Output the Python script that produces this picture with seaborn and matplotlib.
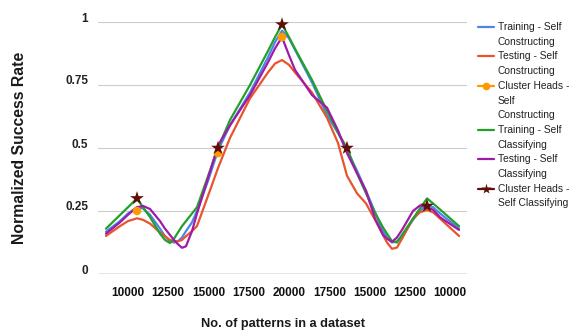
import matplotlib
matplotlib.use("Agg")
import matplotlib.pyplot as plt
import pandas as pd
import seaborn as sns
from matplotlib.lines import Line2D
from matplotlib.transforms import ScaledTranslation

sns.set_theme(style="white")
plt.rcParams['font.family'] = ['Liberation Sans', 'DejaVu Sans']

# ---- data ----
tick_labels = ["10000", "12500", "15000", "17500", "20000", "17500", "15000", "12500", "10000"]
y_ticks = [0, 0.25, 0.5, 0.75, 1]
y_tick_labels = ["0", "0.25", "0.5", "0.75", "1"]

# sample positions along the x axis (in tick units: 0 = first "10000" tick)
x_pos = [-0.547, -0.199, 0.0, 0.224, 0.373, 0.547, 0.795, 0.919, 1.043, 1.143,
         1.242, 1.342, 1.441, 1.590, 1.714, 1.988, 2.236, 2.534, 3.031, 3.478,
         3.652, 3.826, 4.0, 4.149, 4.571, 4.944, 5.217, 5.441, 5.689, 5.913,
         6.137, 6.335, 6.435, 6.559, 6.683, 6.807, 7.081, 7.255, 7.429, 7.578,
         7.752, 8.224]

training_self_constructing = [0.168, 0.21, 0.24, 0.265, 0.26, 0.235, 0.18, 0.15, 0.13, 0.125,
                              0.13, 0.145, 0.17, 0.205, 0.25, 0.37, 0.49, 0.59, 0.72, 0.86,
                              0.92, 0.965, 0.935, 0.89, 0.76, 0.63, 0.56, 0.49, 0.41, 0.33,
                              0.245, 0.17, 0.145, 0.125, 0.13, 0.15, 0.215, 0.25, 0.274, 0.265,
                              0.24, 0.181]
testing_self_constructing = [0.151, 0.19, 0.21, 0.221, 0.215, 0.20, 0.165, 0.15, 0.135, 0.13,
                             0.13, 0.135, 0.15, 0.17, 0.19, 0.31, 0.42, 0.54, 0.697, 0.80,
                             0.835, 0.849, 0.83, 0.80, 0.72, 0.62, 0.52, 0.39, 0.32, 0.28,
                             0.215, 0.155, 0.125, 0.10, 0.105, 0.14, 0.22, 0.245, 0.254, 0.245,
                             0.22, 0.151]
training_self_classifying = [0.18, 0.234, 0.265, 0.30, 0.265, 0.226, 0.16, 0.135, 0.123, 0.14,
                             0.165, 0.19, 0.21, 0.24, 0.265, 0.388, 0.50, 0.611, 0.75, 0.885,
                             0.94, 0.99, 0.94, 0.894, 0.77, 0.648, 0.561, 0.50, 0.40, 0.32,
                             0.243, 0.185, 0.16, 0.13, 0.125, 0.155, 0.22, 0.26, 0.30, 0.28,
                             0.256, 0.19]
testing_self_classifying = [0.16, 0.205, 0.235, 0.265, 0.27, 0.258, 0.21, 0.18, 0.155, 0.135,
                            0.118, 0.104, 0.11, 0.17, 0.24, 0.38, 0.51, 0.59, 0.71, 0.84,
                            0.895, 0.94, 0.868, 0.81, 0.71, 0.66, 0.57, 0.48, 0.40, 0.33,
                            0.22, 0.155, 0.14, 0.128, 0.145, 0.175, 0.25, 0.272, 0.265, 0.255,
                            0.225, 0.175]

ch_sc_x = [0.224, 2.236, 3.826]
ch_sc_y = [0.25, 0.48, 0.94]
ch_cl_x = [0.224, 2.236, 3.826, 5.441, 7.429]
ch_cl_y = [0.30, 0.50, 0.99, 0.50, 0.27]

series_names = ["Training - Self Constructing", "Testing - Self Constructing",
                "Cluster Heads - Self Constructing", "Training - Self Classifying",
                "Testing - Self Classifying", "Cluster Heads - Self Classifying"]
legend_lines = [["Training - Self", "Constructing"],
                ["Testing - Self", "Constructing"],
                ["Cluster Heads -", "Self", "Constructing"],
                ["Training - Self", "Classifying"],
                ["Testing - Self", "Classifying"],
                ["Cluster Heads -", "Self Classifying"]]
colors = ["#4A86E8", "#E8542C", "#FF9900", "#22A02A", "#A01AA8", "#5E0F0A"]

# ---- build frames ----
line_series = [(series_names[0], training_self_constructing),
               (series_names[1], testing_self_constructing),
               (series_names[3], training_self_classifying),
               (series_names[4], testing_self_classifying)]
line_df = pd.concat([pd.DataFrame({"x": x_pos, "y": vals, "series": name})
                     for name, vals in line_series], ignore_index=True)

W, H = 579, 334
fig = plt.figure(figsize=(W / 100, H / 100), dpi=100)
ax = fig.add_axes([98 / W, 1 - 274 / H, (467 - 98) / W, (274 - 22) / H])

# grid
for yv in y_ticks[1:]:
    ax.axhline(yv, color="#cccccc", lw=0.8, zorder=0)
ax.axhline(0, color="#333333", lw=0.9, zorder=1)

palette = {series_names[i]: colors[i] for i in range(6)}
order = [series_names[0], series_names[1], series_names[3], series_names[4]]
for name in order:
    sub = line_df[line_df.series == name]
    sns.lineplot(data=sub, x="x", y="y", color=palette[name], lw=1.6, sort=False,
                 ax=ax, legend=False, clip_on=False, zorder=3,
                 solid_joinstyle="round", solid_capstyle="round")

sns.scatterplot(x=ch_sc_x, y=ch_sc_y, color=colors[2], s=38, marker="o",
                edgecolor="none", ax=ax, legend=False, zorder=4, clip_on=False)
sns.scatterplot(x=ch_cl_x, y=ch_cl_y, color=colors[5], s=110, marker="*",
                edgecolor="none", ax=ax, legend=False, zorder=5, clip_on=False)

ax.set_xlim(-0.745, 8.422)
ax.set_ylim(0, 1)
for s in ax.spines.values():
    s.set_visible(False)
ax.set_xticks(range(len(tick_labels)))
ax.set_xticklabels(tick_labels, fontsize=8.5, fontweight="bold", color="#111111")
ax.set_yticks(y_ticks)
ax.set_yticklabels(y_tick_labels, fontsize=8.5, fontweight="bold", color="#222222")
ax.tick_params(axis="x", length=0, pad=9)
ax.tick_params(axis="y", length=0, pad=7)
off = ScaledTranslation(0, 5 / 100, fig.dpi_scale_trans)
for lab in ax.get_yticklabels():
    lab.set_transform(lab.get_transform() + off)
ax.set_xlabel("")
ax.set_ylabel("")
ax.set_facecolor("white")

fig.text(20 / W, 1 - 148 / H, "Normalized Success Rate", rotation=90, ha="center",
         va="center", fontsize=11.3, fontweight="bold", color="#1a1a1a")
fig.text(283 / W, 1 - 324 / H, "No. of patterns in a dataset", ha="center",
         va="center", fontsize=9.2, fontweight="bold", color="#1a1a1a")

# legend (manual, Google-chart style)
line_h = 14.7
y0 = 27
k = 0
for i, lines in enumerate(legend_lines):
    yy = y0 + k * line_h
    fy = 1 - yy / H
    fig.add_artist(Line2D([478 / W, 494 / W], [fy, fy], color=colors[i], lw=1.6,
                          transform=fig.transFigure))
    if i == 2:
        fig.add_artist(Line2D([486 / W], [fy], marker="o", ms=5.5, color=colors[i],
                              mec="none", transform=fig.transFigure))
    if i == 5:
        fig.add_artist(Line2D([486 / W], [fy], marker="*", ms=8, color=colors[i],
                              mec="none", transform=fig.transFigure))
    for j, t in enumerate(lines):
        fig.text(498 / W, 1 - (yy + j * line_h) / H, t, ha="left", va="center",
                 fontsize=7.4, color="#222222")
    k += len(lines)

fig.savefig("out.png", dpi=100, facecolor="white")
